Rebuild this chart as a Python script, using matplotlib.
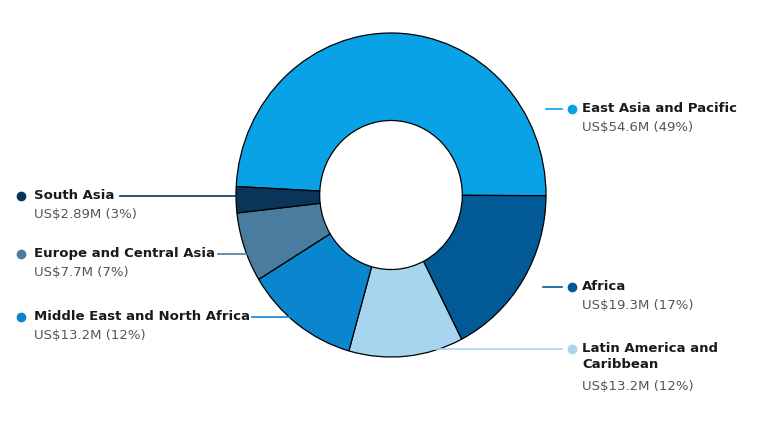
import matplotlib
matplotlib.use("Agg")
import matplotlib.pyplot as plt
from matplotlib.lines import Line2D

regions = ["East Asia and Pacific", "Africa", "Latin America and\nCaribbean",
           "Middle East and North Africa", "Europe and Central Asia", "South Asia"]
values = [54.6, 19.3, 13.2, 13.2, 7.7, 2.89]
value_labels = ["US$54.6M (49%)", "US$19.3M (17%)", "US$13.2M (12%)",
                "US$13.2M (12%)", "US$7.7M (7%)", "US$2.89M (3%)"]
colors = ["#0aa2e6", "#015a96", "#a7d5ee", "#0a86cf", "#4a7c9f", "#0b3558"]

W, H = 780, 439
fig = plt.figure(figsize=(W/100, H/100), dpi=100)
cx, cy, rx, ry = 391, 196, 155, 162
ax = fig.add_axes([(cx-rx)/W, 1-(cy+ry)/H, 2*rx/W, 2*ry/H])
ax.pie(values, colors=colors, startangle=177, counterclock=False,
       wedgeprops=dict(width=0.54, edgecolor="black", linewidth=0.9))
ax.set_xlim(-1, 1); ax.set_ylim(-1, 1); ax.set_aspect("auto"); ax.axis("off")

specs = [
    (546, 562, 110, 572, 582),
    (543, 562, 288, 572, 582),
    (435, 562, 350, 572, 582),
    (252, 290, 318, 21, 34),
    (218, 253, 255, 21, 34),
    (120, 236, 197, 21, 34),
]
for i, (x0, x1, y, dx, tx) in enumerate(specs):
    fig.add_artist(Line2D([x0/W, x1/W], [1-y/H, 1-y/H], color=colors[i], lw=1.2))
    fig.add_artist(Line2D([dx/W], [1-y/H], marker="o", ms=6, color=colors[i], lw=0))
    name = regions[i]
    nl = name.count("\n")
    fig.text(tx/W, 1-(y-8)/H, name, fontsize=9.5, fontweight="semibold", color="#1a1a1a",
             va="top", ha="left", linespacing=1.35)
    fig.text(tx/W, 1-(y+11+19*nl)/H, value_labels[i], fontsize=9.5, color="#555555",
             va="top", ha="left")

fig.savefig("out.png", dpi=100)
